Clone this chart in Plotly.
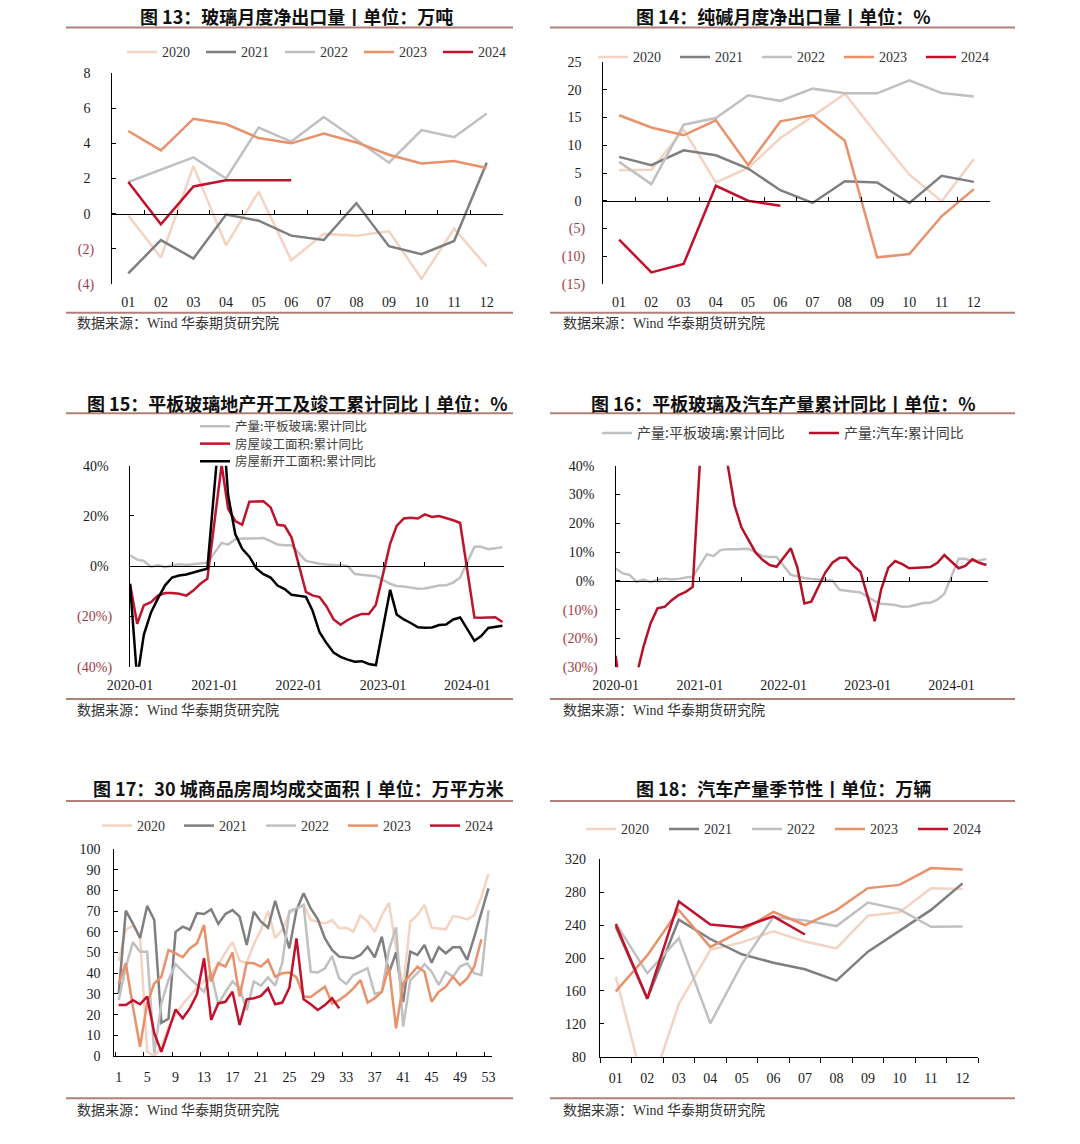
import plotly.graph_objects as go
import pandas as pd

W, H = 1080, 1144
PAGE_OFFSET = 0  # body margin is removed by the post script below


def fx(x):
    return (x - PAGE_OFFSET) / W


def fy(y):
    return 1 - (y - PAGE_OFFSET) / H


YEAR_NAMES = ["2020", "2021", "2022", "2023", "2024"]
YEAR_COLORS = ["#f4d3c2", "#7f7f7f", "#c0c0c0", "#e8916a", "#c3112c"]
MONTH_LABELS = ["01", "02", "03", "04", "05", "06", "07", "08", "09", "10", "11", "12"]

# ---------- 图13 玻璃月度净出口量 (万吨) ----------
g13_2020 = [-0.1, -2.5, 2.7, -1.8, 1.25, -2.65, -1.15, -1.25, -1.0, -3.7, -0.85, -3.0]
g13_2021 = [-3.4, -1.5, -2.55, -0.05, -0.4, -1.25, -1.5, 0.6, -1.85, -2.3, -1.55, 2.9]
g13_2022 = [1.8, 2.5, 3.2, 2.0, 4.9, 4.1, 5.5, 4.2, 2.9, 4.75, 4.35, 5.7]
g13_2023 = [4.7, 3.6, 5.4, 5.1, 4.3, 4.0, 4.55, 4.05, 3.35, 2.85, 3.0, 2.6]
g13_2024 = [1.8, -0.6, 1.55, 1.9, 1.9, 1.9]
g13_yticks = [8, 6, 4, 2, 0, -2, -4]

# ---------- 图14 纯碱月度净出口量 ----------
s14_2020 = [5.5, 5.6, 12.8, 3.3, 5.9, 11.3, 15.2, 19.3, 11.9, 4.7, -0.1, 7.5]
s14_2021 = [7.9, 6.4, 9.1, 8.2, 5.8, 1.9, -0.4, 3.5, 3.3, -0.4, 4.5, 3.4]
s14_2022 = [7.0, 3.0, 13.7, 14.9, 19.0, 18.0, 20.2, 19.35, 19.35, 21.7, 19.4, 18.8]
s14_2023 = [15.4, 13.2, 11.8, 14.5, 6.4, 14.3, 15.4, 10.8, -10.2, -9.6, -2.8, 2.1]
s14_2024 = [-7.0, -12.9, -11.4, 2.7, 0.0, -0.9]
s14_yticks = [25, 20, 15, 10, 5, 0, -5, -10, -15]

# ---------- 图15 平板玻璃/地产 累计同比 (%) ----------
glass_yoy_2020 = [4.3, 2.6, 2.1, -0.3, 0.5, -0.4, 0.3, 0.8, 0.5, 0.7, 1.2, 1.4]
glass_yoy_2021 = [None, 9.3, 8.6, 10.7, 11.0, 11.0, 11.2, 11.2, 10.0, 8.6, 8.3, 8.3]
glass_yoy_2022 = [None, 2.1, 1.5, 1.0, 0.7, 0.4, 0.3, 0.1, -3.1, -3.4, -3.7, -4.0]
glass_yoy_2023 = [None, -7.0, -7.9, -8.1, -8.4, -9.0, -8.9, -8.3, -7.7, -7.6, -6.5, -4.5]
glass_yoy_2024 = [None, 7.7, 7.7, 6.8, 7.1, 7.6]

completed_2020 = [-7.0, -22.9, -15.6, -14.3, -11.7, -10.7, -10.7, -11.0, -11.7, -9.7, -7.0, -5.0]
completed_2021 = [None, 40.4, 22.8, 18.0, 16.5, 25.7, 25.8, 25.8, 23.4, 16.5, 16.1, 11.4]
completed_2022 = [None, -10.2, -11.6, -12.3, -16.0, -21.2, -23.3, -21.4, -20.0, -19.0, -19.0, -15.3]
completed_2023 = [None, 9.0, 16.0, 19.0, 19.3, 19.0, 20.6, 19.6, 20.0, 19.2, 18.3, 17.2]
completed_2024 = [None, -20.4, -20.5, -20.5, -20.3, -22.2]

newstart_2020 = [-7.0, -44.9, -27.2, -18.4, -12.8, -7.6, -4.5, -3.7, -3.3, -2.4, -1.7, -1.0]
newstart_2021 = [None, 64.3, 28.2, 12.8, 6.9, 3.8, -0.9, -3.2, -4.5, -7.7, -9.1, -11.4]
newstart_2022 = [None, -12.2, -17.5, -26.3, -30.6, -34.4, -36.1, -37.2, -38.0, -37.8, -38.9, -39.4]
newstart_2023 = [None, -9.4, -19.2, -21.2, -22.6, -24.3, -24.5, -24.4, -23.4, -23.2, -21.2, -20.4]
newstart_2024 = [None, -29.7, -27.8, -24.6, -24.2, -23.7]

# ---------- 图16 汽车产量累计同比 (%) ----------
car_yoy_2020 = [-26.0, -45.8, -45.2, -32.8, -22.8, -14.7, -9.5, -9.0, -6.7, -4.9, -3.8, -2.1]
car_yoy_2021 = [None, 83.4, 81.7, 55.0, 40.5, 26.3, 18.6, 14.0, 9.8, 7.3, 5.5, 4.9]
car_yoy_2022 = [None, 11.3, 4.8, -7.8, -7.2, -2.3, 2.9, 6.3, 8.0, 8.0, 5.2, 3.2]
car_yoy_2023 = [None, -14.0, -3.0, 4.5, 6.9, 5.8, 4.4, 4.6, 4.6, 4.8, 6.3, 9.0]
car_yoy_2024 = [None, 4.4, 5.2, 7.5, 6.3, 5.5]

# ---------- 图17 30城商品房周均成交面积 (万平方米) ----------
h17_2020 = [46, 61, 63, 58, 2, 0, 4, 14, 20, 25, 29, 33, 36, 40, 44, 50, 55, 46, 45, 54, 61, 70,
            57, 61, 69, 71, 73, 65.7, 64.9, 64, 65.7, 61.7, 62, 60, 68, 65, 60, 68, 74, 52, 33, 65,
            68, 73, 62, 61.7, 61.2, 67.6, 67, 66, 68, 77, 88]
h17_2021 = [30, 70.2, 64, 57, 72.5, 65.7, 16, 18, 60, 62.5, 61, 69, 68.6, 70.9, 63.8, 68.6, 70.5,
            67.3, 53.6, 69.7, 64.9, 62, 75, 64, 52, 70.5, 78.6, 71.3, 66, 56.8, 51.2, 48, 47.7,
            47.2, 48.8, 52.8, 47.7, 57.6, 40, 50, 26, 50.4, 48.8, 53.6, 45, 52.5, 49.6, 52.5, 52.5,
            46.4, 57.6, 69.2, 81]
h17_2022 = [27, 43, 55, 50.4, 50.4, 1.3, 25.4, 36.7, 44.4, 40.7, 37.5, 34.3, 31, 40, 25, 31, 36,
            33, 22, 36, 34, 38, 34, 45, 70, 71.3, 73, 40.7, 40.3, 42.4, 48.3, 37.5, 34.8, 39.1,
            40.7, 42.4, 30, 31, 51.2, 62.2, 14.2, 36.7, 40, 44.4, 40.7, 34.3, 40.7, 38.3, 43.2,
            44.8, 40, 39.1, 70.5]
h17_2023 = [35, 44.8, 23.8, 4.5, 25.4, 35, 38.3, 51.2, 49.6, 47.7, 52, 54.4, 63.3, 36, 44.8,
            43.2, 50, 28.7, 45, 44.8, 43.2, 46.4, 38.3, 40, 40.3, 38, 28.7, 28.5, 31, 33.5, 25.4,
            27, 29.5, 32.7, 36.7, 25.8, 27.9, 31, 43.2, 13.4, 35, 39, 43.2, 40.7, 26.2, 31, 33.5,
            38.3, 34.3, 37.5, 43.2, 56.4]
h17_2024 = [24.6, 24.6, 27, 25, 28.7, 11, 2, 12.6, 22.5, 18.2, 23, 29.8, 47.2, 17.4, 25.4, 26.2,
            31, 15, 27.4, 27.9, 29, 32.7, 25, 25.8, 33, 56.8, 27.4, 25, 22.2, 24.6, 27.9, 23]
h17_xlabels = [1, 5, 9, 13, 17, 21, 25, 29, 33, 37, 41, 45, 49, 53]
h17_yticks = [0, 10, 20, 30, 40, 50, 60, 70, 80, 90, 100]

# ---------- 图18 汽车产量季节性 (万辆) ----------
car_2020 = [177, 28.5, 144, 210, 219, 232.5, 220, 211.6, 251.4, 255.7, 284.7, 284]
car_2021 = [238.1, 150.3, 246.6, 223.1, 204.5, 194.3, 186.3, 172.5, 207.7, 233.1, 258.5, 290.7]
car_2022 = [242.1, 181.4, 224.1, 120.5, 192.6, 249.9, 245.5, 238.8, 267.5, 259.1, 238.0, 238.4]
car_2023 = [159.4, 203.2, 258.4, 213.3, 233.3, 256.1, 240.1, 258.2, 285.0, 288.9, 309.3, 307.7]
car_2024 = [241.0, 150.7, 268.7, 240.6, 237.2, 250.7, 228.6]
car_yticks = [80, 120, 160, 200, 240, 280, 320]

MONTHLY_DATES = pd.date_range("2020-01-01", "2024-06-01", freq="MS")
YEAR_TICKS = pd.to_datetime(["2020-01-01", "2021-01-01", "2022-01-01", "2023-01-01", "2024-01-01"])

NEG_COLOR = "#a13a45"
RULE_COLOR = "#b08078"
TICK_FONT = dict(family="Liberation Serif, Times New Roman, serif", size=14, color="#1a1a1a")
SERIF_LEG = dict(family="Liberation Serif, Times New Roman, serif", size=14, color="#333333")
CJK_LEG = dict(family="Noto Sans CJK SC, sans-serif", size=14, color="#404040")
CJK_LEG_S = dict(family="Noto Sans CJK SC, sans-serif", size=12.5, color="#404040")
LW = 2.5


def fmt_num(v, pct=False):
    s = f"{abs(v)}" + ("%" if pct else "")
    if v < 0:
        return f"<span style='color:{NEG_COLOR}'>({s})</span>"
    return s + "\u2008"


fig = go.Figure()


def add(x, y, name, color, xa, ya, legend, width=LW, showlegend=True):
    fig.add_trace(go.Scatter(
        x=x, y=y, name=name, mode="lines", line=dict(color=color, width=width),
        xaxis=xa, yaxis=ya, legend=legend, showlegend=showlegend,
        connectgaps=True, hoverinfo="skip"))


# chart 13
for name, col, arr in zip(YEAR_NAMES, YEAR_COLORS, [g13_2020, g13_2021, g13_2022, g13_2023, g13_2024]):
    add(list(range(len(arr))), arr, name, col, "x", "y", "legend")
# chart 14
for name, col, arr in zip(YEAR_NAMES, YEAR_COLORS, [s14_2020, s14_2021, s14_2022, s14_2023, s14_2024]):
    add(list(range(len(arr))), arr, name, col, "x2", "y2", "legend2")
# chart 15
glass_yoy = glass_yoy_2020 + glass_yoy_2021 + glass_yoy_2022 + glass_yoy_2023 + glass_yoy_2024
completed = completed_2020 + completed_2021 + completed_2022 + completed_2023 + completed_2024
newstart = newstart_2020 + newstart_2021 + newstart_2022 + newstart_2023 + newstart_2024
add(MONTHLY_DATES, glass_yoy, "产量:平板玻璃:累计同比", "#c0c0c0", "x3", "y3", "legend3")
add(MONTHLY_DATES, completed, "房屋竣工面积:累计同比", "#c0142c", "x3", "y3", "legend7")
add(MONTHLY_DATES, newstart, "房屋新开工面积:累计同比", "#000000", "x3", "y3", "legend8")
# chart 16
car_yoy = car_yoy_2020 + car_yoy_2021 + car_yoy_2022 + car_yoy_2023 + car_yoy_2024
add(MONTHLY_DATES, glass_yoy, "产量:平板玻璃:累计同比", "#c0c0c0", "x4", "y4", "legend4")
add(MONTHLY_DATES, car_yoy, "产量:汽车:累计同比", "#b5122a", "x4", "y4", "legend4")
# chart 17
for name, col, arr in zip(YEAR_NAMES, YEAR_COLORS, [h17_2020, h17_2021, h17_2022, h17_2023, h17_2024]):
    add(list(range(1, len(arr) + 1)), arr, name, col, "x5", "y5", "legend5")
# chart 18
for name, col, arr in zip(YEAR_NAMES, YEAR_COLORS, [car_2020, car_2021, car_2022, car_2023, car_2024]):
    add(list(range(len(arr))), arr, name, col, "x6", "y6", "legend6")

# dummy traces so the zero-line overlay axes are drawn
for xa, ya in [("x7", "y"), ("x8", "y2"), ("x9", "y3"), ("x10", "y4")]:
    fig.add_trace(go.Scatter(x=[None], y=[None], xaxis=xa, yaxis=ya, showlegend=False,
                             hoverinfo="skip", mode="lines"))

# ---------- layout: panels (pixel boxes in the page) ----------
P = {
    1: dict(x=(112, 503), y=(73, 284), yr=[-4, 8]),
    2: dict(x=(603, 990), y=(62, 284), yr=[-15, 25]),
    3: dict(x=(130, 504), y=(465.7, 666.7), yr=[-40, 40]),
    4: dict(x=(615.7, 988), y=(465.7, 667.3), yr=[-30, 40]),
    5: dict(x=(114.3, 491.7), y=(849, 1056), yr=[0, 100]),
    6: dict(x=(600, 978.3), y=(859.3, 1056.7), yr=[80, 320]),
}


def xdom(i):
    return [fx(P[i]["x"][0]), fx(P[i]["x"][1])]


def ydom(i):
    return [fy(P[i]["y"][1]), fy(P[i]["y"][0])]


def zero_pos(i):
    d = ydom(i)
    lo, hi = P[i]["yr"]
    return d[0] + (0 - lo) / (hi - lo) * (d[1] - d[0])


def ax_name(prefix, i):
    return prefix if i == 1 else f"{prefix}{i}"


def y_axis(i, vals, pct=False, standoff=12, plain=False):
    return dict(domain=ydom(i), range=P[i]["yr"], anchor=ax_name("x", i),
                tickmode="array", tickvals=vals,
                ticktext=[str(v) if plain else fmt_num(v, pct) for v in vals],
                showline=True, linecolor="black", linewidth=1.2,
                ticks="inside", ticklen=4, tickcolor="black", automargin=False,
                showgrid=False, zeroline=False, tickfont=TICK_FONT, ticklabelstandoff=standoff)


def x_cat_axis(i, n_range, labels_vals, labels_text, standoff=8, **kw):
    d = dict(domain=xdom(i), range=n_range, anchor=ax_name("y", i),
             tickmode="array", tickvals=labels_vals, ticktext=labels_text,
             showgrid=False, zeroline=False, ticks="", tickfont=TICK_FONT,
             ticklabelstandoff=standoff, automargin=False)
    d.update(kw)
    return d


month_idx = list(range(12))
bounds = [k + 0.5 for k in range(-1, 12)]
date_range = ["2020-01-01", "2024-06-08"]

layout_axes = dict(
    xaxis=x_cat_axis(1, [-0.5, 11.5], month_idx, MONTH_LABELS, showline=False),
    yaxis=y_axis(1, g13_yticks, standoff=14),
    xaxis2=x_cat_axis(2, [-0.5, 11.5], month_idx, MONTH_LABELS, showline=False),
    yaxis2=y_axis(2, s14_yticks, standoff=14),
    xaxis3=dict(domain=xdom(3), range=date_range, anchor="y3", type="date",
                tickmode="array", tickvals=YEAR_TICKS, tickformat="%Y-%m",
                showgrid=False, zeroline=False, ticks="", showline=False, automargin=False,
                tickfont=TICK_FONT, ticklabelstandoff=8),
    yaxis3=y_axis(3, [40, 20, 0, -20, -40], pct=True, standoff=14),
    xaxis4=dict(domain=xdom(4), range=date_range, anchor="y4", type="date",
                tickmode="array", tickvals=YEAR_TICKS, tickformat="%Y-%m",
                showgrid=False, zeroline=False, ticks="", showline=False, automargin=False,
                tickfont=TICK_FONT, ticklabelstandoff=8),
    yaxis4=y_axis(4, [40, 30, 20, 10, 0, -10, -20, -30], pct=True, standoff=14),
    xaxis5=x_cat_axis(5, [0.38, 53.45], h17_xlabels, [str(v) for v in h17_xlabels],
                      showline=True, linecolor="black", linewidth=1.2,
                      minor=dict(ticks="inside", ticklen=4, tickcolor="black",
                                 tickmode="linear", tick0=0.5, dtick=4, showgrid=False)),
    yaxis5=y_axis(5, h17_yticks, plain=True, standoff=10),
    xaxis6=x_cat_axis(6, [-0.5, 11.5], month_idx, MONTH_LABELS,
                      showline=True, linecolor="black", linewidth=1.2,
                      minor=dict(ticks="outside", ticklen=5, tickcolor="black",
                                 tickmode="array", tickvals=bounds, showgrid=False)),
    yaxis6=y_axis(6, car_yticks, plain=True, standoff=10),
)

# zero-line overlay axes with tick marks
zero_common = dict(anchor="free", showticklabels=False, showline=True, linecolor="black",
                   linewidth=1.2, ticks="inside", ticklen=4, tickcolor="black",
                   showgrid=False, zeroline=False, automargin=False)
layout_axes["xaxis7"] = dict(overlaying="x", domain=xdom(1), range=[-0.5, 11.5], position=zero_pos(1),
                             tickmode="array", tickvals=bounds[1:], **zero_common)
layout_axes["xaxis8"] = dict(overlaying="x2", domain=xdom(2), range=[-0.5, 11.5], position=zero_pos(2),
                             tickmode="array", tickvals=bounds[1:], **zero_common)
layout_axes["xaxis9"] = dict(overlaying="x3", domain=xdom(3), range=date_range, type="date",
                             position=zero_pos(3), tickmode="linear", tick0="2020-01-01",
                             dtick="M6", **zero_common)
layout_axes["xaxis10"] = dict(overlaying="x4", domain=xdom(4), range=date_range, type="date",
                              position=zero_pos(4), tickmode="linear", tick0="2020-01-01",
                              dtick="M6", **zero_common)

fig.update_layout(**layout_axes)


# ---------- legends ----------
def hleg(x_line, y_mid, font, entrywidth=None):
    d = dict(orientation="h", x=fx(x_line - 5), y=fy(y_mid), xanchor="left", yanchor="middle",
             font=font, bgcolor="rgba(0,0,0,0)", borderwidth=0, itemclick=False)
    if entrywidth:
        d.update(entrywidth=entrywidth, entrywidthmode="pixels")
    return d


fig.update_layout(
    legend=hleg(127, 52.3, SERIF_LEG, 34),
    legend2=hleg(598, 57.3, SERIF_LEG, 37),
    legend3=hleg(200, 426.5, CJK_LEG_S),
    legend7=hleg(200, 444.0, CJK_LEG_S),
    legend8=hleg(200, 461.5, CJK_LEG_S),
    legend4=hleg(602, 433.3, CJK_LEG, 162),
    legend5=hleg(102, 826, SERIF_LEG, 37),
    legend6=hleg(586, 829.3, SERIF_LEG, 38),
)

# ---------- titles, rules, sources ----------
TITLES = [
    ("图 13：玻璃月度净出口量丨单位：万吨", 296, 16, 66, 513, 27.5, 312.7, 75, 323),
    ("图 14：纯碱月度净出口量丨单位：%", 783, 16, 550, 1015, 27.5, 312.7, 561, 323),
    ("图 15：平板玻璃地产开工及竣工累计同比丨单位：%", 297, 402.7, 66, 513, 413.3, 699, 75, 710),
    ("图 16：平板玻璃及汽车产量累计同比丨单位：%", 783, 402.7, 550, 1015, 413.3, 699, 561, 710),
    ("图 17：30 城商品房周均成交面积丨单位：万平方米", 298, 788.3, 66, 513, 801, 1098.3, 75, 1110),
    ("图 18：汽车产量季节性丨单位：万辆", 783, 788, 550, 1015, 801, 1098.3, 561, 1110),
]
annotations = []
shapes = []
for text, tx, ty, rx0, rx1, rtop, rbot, sx, sy in TITLES:
    annotations.append(dict(text=f"<b>{text}</b>", x=fx(tx), y=fy(ty), xref="paper", yref="paper",
                            xanchor="center", yanchor="middle", showarrow=False,
                            font=dict(family="Noto Sans CJK SC, sans-serif", size=18, color="#111111")))
    annotations.append(dict(text="数据来源：Wind 华泰期货研究院", x=fx(sx), y=fy(sy),
                            xref="paper", yref="paper", xanchor="left", yanchor="middle",
                            showarrow=False,
                            font=dict(family="Liberation Serif, Noto Sans CJK SC, serif", size=14,
                                      color="#333333")))
    for ry in (rtop, rbot):
        shapes.append(dict(type="line", xref="paper", yref="paper", x0=fx(rx0), x1=fx(rx1),
                           y0=fy(ry), y1=fy(ry), line=dict(color=RULE_COLOR, width=2)))

fig.update_layout(
    template="none",
    width=W, height=H, autosize=False,
    margin=dict(l=0, r=0, t=0, b=0, pad=0, autoexpand=False),
    paper_bgcolor="white", plot_bgcolor="white",
    showlegend=True,
    annotations=annotations, shapes=shapes,
)

fig.write_html("out.html", config={"displayModeBar": False},
               post_script="document.body.style.margin='0px';")
